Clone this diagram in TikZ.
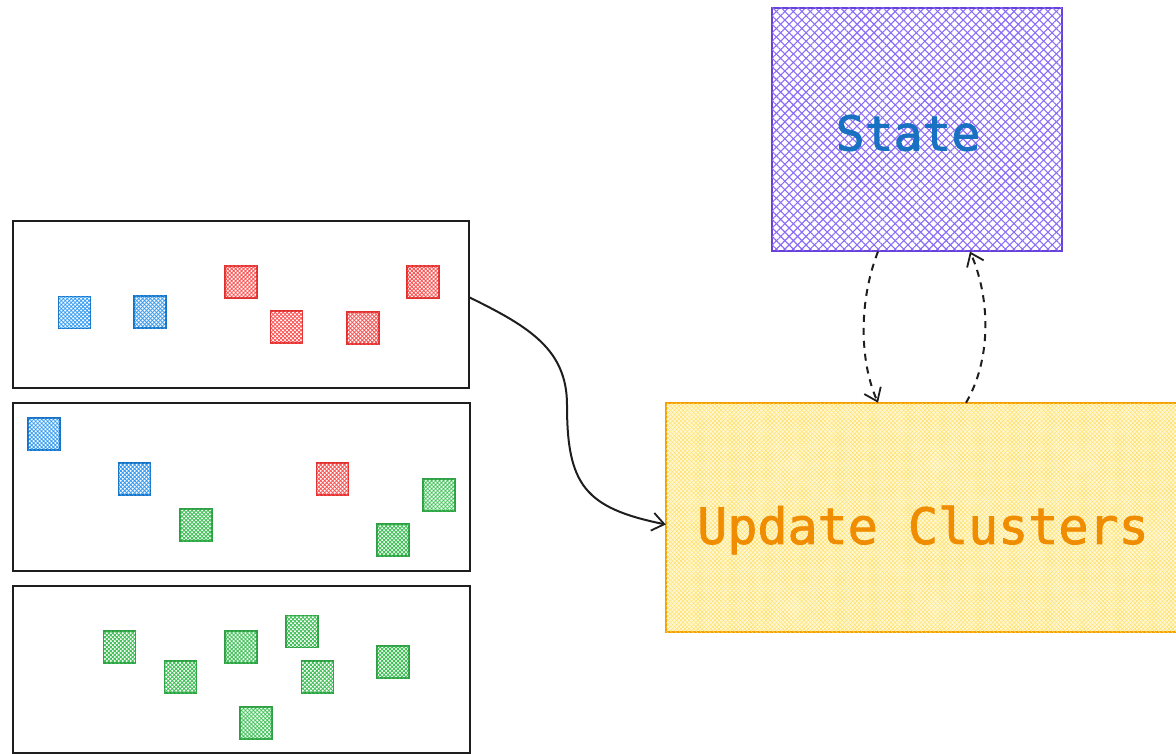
\documentclass[tikz,border=0pt]{standalone}
\usepackage{fontspec}
\newfontfamily\mono[FakeBold=1.6]{DejaVu Sans Mono}
\usetikzlibrary{patterns.meta,arrows.meta}
\definecolor{inkc}{HTML}{1E1E1E}
\definecolor{bluS}{HTML}{1971C2}
\definecolor{bluF}{HTML}{339AF0}
\definecolor{redS}{HTML}{E03131}
\definecolor{redF}{HTML}{FA5252}
\definecolor{grnS}{HTML}{2F9E44}
\definecolor{grnF}{HTML}{40C057}
\definecolor{purS}{HTML}{6741D9}
\definecolor{purF}{HTML}{8B6CF6}
\definecolor{ylwS}{HTML}{F59F00}
\definecolor{ylwF}{HTML}{FFE066}
\definecolor{ylwB}{HTML}{FFF8D6}
\definecolor{orgT}{HTML}{F08C00}
\tikzset{
  hatch/.style n args={2}{pattern={Lines[angle=45,distance=#1,line width=#2]},
     postaction={pattern={Lines[angle=-45,distance=#1,line width=#2]}}},
  panel/.style={draw=inkc, line width=1.3pt, rectangle, inner sep=0pt},
  sqbox/.style={rectangle, minimum size=32pt, inner sep=0pt, line width=1.5pt, hatch={2.8pt}{0.9pt}},
  bsq/.style={sqbox, draw=bluS, pattern color=bluF},
  rsq/.style={sqbox, draw=redS, pattern color=redF},
  gsq/.style={sqbox, draw=grnS, pattern color=grnF},
  conn/.style={draw=inkc, line width=2pt, -{Straight Barb[length=12pt,width=18pt,line width=1.8pt]}},
  dconn/.style={conn, dash pattern=on 7pt off 6pt},
}
\begin{document}
\begin{tikzpicture}[x=1pt,y=-1pt]
\useasboundingbox (0,0) rectangle (1176,754);
\clip (0,0) rectangle (1176,754);
% panels
\node[panel, minimum width=456pt, minimum height=167pt] (p1) at (241,304.5) {};
\node[panel, minimum width=457pt, minimum height=168pt] (p2) at (241.5,487) {};
\node[panel, minimum width=457pt, minimum height=167pt] (p3) at (241.5,669.5) {};
% panel 1 squares
\node[bsq] (a1) at (74.5,312.5) {};
\node[bsq] (a2) at (150,312) {};
\node[rsq] (a3) at (241,282) {};
\node[rsq] (a4) at (286.5,327) {};
\node[rsq] (a5) at (363,328) {};
\node[rsq] (a6) at (423,282) {};
% panel 2 squares
\node[bsq] (b1) at (44,434) {};
\node[bsq] (b2) at (134.5,479) {};
\node[gsq] (b3) at (196,525) {};
\node[rsq] (b4) at (332.5,479) {};
\node[gsq] (b5) at (439,495) {};
\node[gsq] (b6) at (393,540) {};
% panel 3 squares
\node[gsq] (c1) at (119.5,647) {};
\node[gsq] (c2) at (180.5,677) {};
\node[gsq] (c3) at (241,647) {};
\node[gsq] (c4) at (302,631.5) {};
\node[gsq] (c5) at (317.5,677) {};
\node[gsq] (c6) at (393,662) {};
\node[gsq] (c7) at (256,723) {};
% State
\node[rectangle, draw=purS, line width=2pt, minimum width=290pt, minimum height=243pt,
      pattern color=purF, hatch={6pt}{1.1pt}, inner sep=0pt] (state) at (917,129.5) {};
\node[text=bluS, font=\mono\fontsize{48}{50}\selectfont] (statelbl) at (908,133) {State};
% Update Clusters
\fill[ylwB] (666,403) rectangle (1190,632);
\node[rectangle, draw=ylwS, line width=1.6pt, minimum width=524pt, minimum height=229pt,
      pattern color=ylwF, hatch={3pt}{0.5pt}, inner sep=0pt] (upd) at (928,517.5) {};
\node[text=orgT, font=\mono\fontsize{50}{52}\selectfont] (updlbl) at (923,530) {Update Clusters};
% connectors
\draw[conn] ([yshift=7pt]p1.east) .. controls (530,327) and (567,350) .. (567,405)
   .. controls (567,485) and (585,508) .. ([yshift=-7pt]upd.west);
\draw[dconn] ([xshift=-39pt]state.south) .. controls (859,300) and (859,360) .. ([xshift=-50pt]upd.north);
\draw[dconn] ([xshift=38pt]upd.north) .. controls (991,360) and (991,300) .. ([xshift=53pt]state.south);
\end{tikzpicture}
\end{document}
